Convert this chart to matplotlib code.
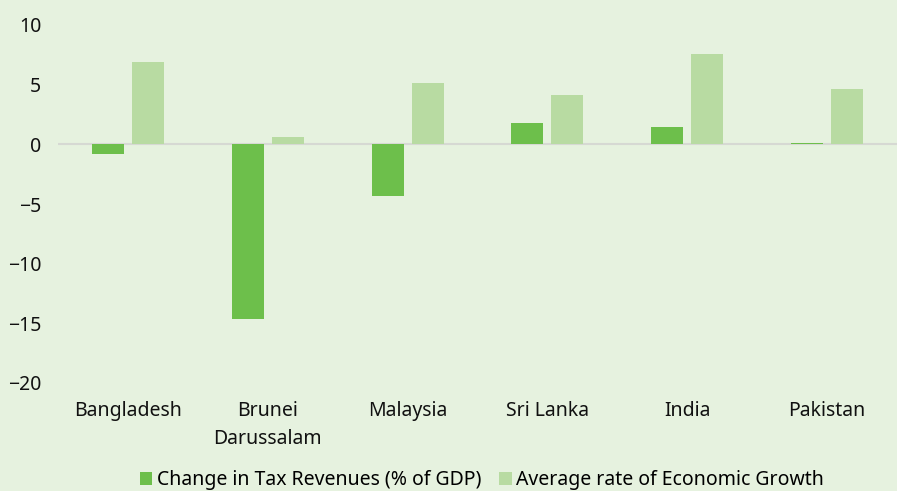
import matplotlib
matplotlib.use("Agg")
import matplotlib.pyplot as plt
import numpy as np

countries = ["Bangladesh", "Brunei\nDarussalam", "Malaysia", "Sri Lanka", "India", "Pakistan"]
tax_change = [-0.8, -14.6, -4.3, 1.8, 1.45, 0.1]
growth_avg = [6.9, 0.6, 5.15, 4.15, 7.6, 4.65]
y_ticks = [10, 5, 0, -5, -10, -15, -20]

bg = "#e6f2df"
plt.rcParams['font.family'] = ['Noto Sans', 'DejaVu Sans']

fig = plt.figure(figsize=(8.97, 4.91), dpi=100, facecolor=bg)
ax = fig.add_axes([58/897, 1-383/491, 1-58/897, (383-25)/491])
ax.set_facecolor(bg)

x = np.arange(len(countries))
w = 0.229
ax.bar(x - 0.143, tax_change, w, color="#6dbf4b", label="Change in Tax Revenues (% of GDP)", zorder=3)
ax.bar(x + 0.143, growth_avg, w, color="#b8dba2", label="Average rate of Economic Growth", zorder=3)
ax.axhline(0, color="#d6d9d3", lw=1.5, zorder=2)

ax.set_xlim(-0.5, len(countries) - 0.5)
ax.set_ylim(-20, 10)
ax.set_yticks(y_ticks)
ax.set_yticklabels([str(t).replace("-", "\u2212") for t in y_ticks])
ax.set_xticks(x)
ax.set_xticklabels(countries, linespacing=1.5)
ax.tick_params(axis="both", length=0, labelsize=14, colors="#111111")
ax.tick_params(axis="x", pad=13)
ax.tick_params(axis="y", pad=12)
for s in ax.spines.values():
    s.set_visible(False)

leg = fig.legend(loc="center", bbox_to_anchor=(482/897, 1-480/491), ncol=2, frameon=False,
                 fontsize=14, handlelength=0.65, handleheight=0.65, handletextpad=0.25,
                 columnspacing=0.9, borderpad=0, borderaxespad=0)

fig.savefig("out.png", dpi=100, facecolor=bg)
